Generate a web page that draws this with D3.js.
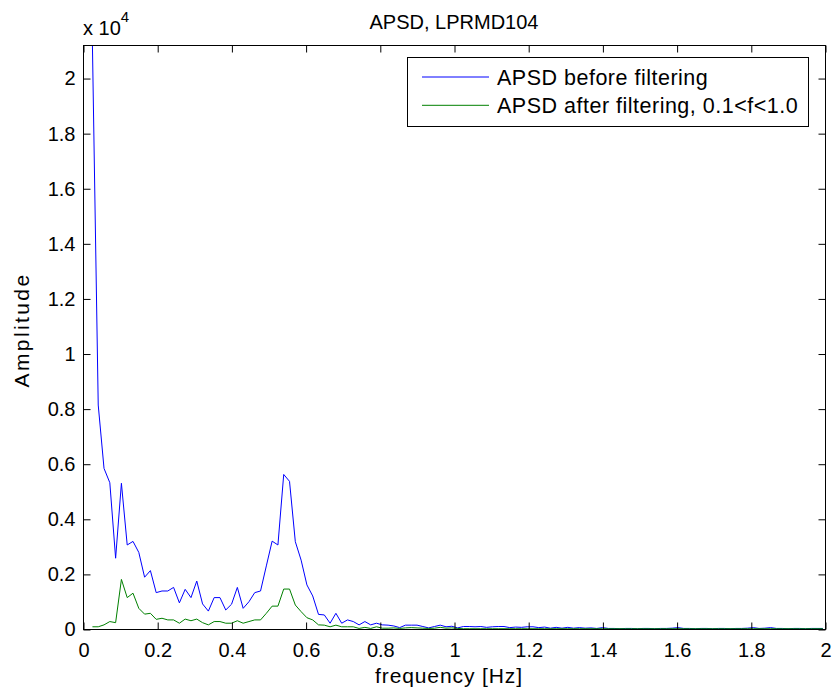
<!DOCTYPE html>
<html>
<head>
<meta charset="utf-8">
<script src="https://cdn.jsdelivr.net/npm/d3@7/dist/d3.min.js"></script>
<style>
body{margin:0;background:#fff;}
text{font-family:"Liberation Sans",Arial,sans-serif;fill:#000;}
</style>
</head>
<body>
<div id="container"></div>
<script>
// amplitude, one value per frequency bin
const blueAmp = [
  21200, 8130, 5830, 5310, 2570, 5290, 3050, 3180, 2780, 1880,
  2120, 1320, 1380, 1380, 1510, 950, 1440, 1140, 1740, 910,
  650, 1140, 1140, 690, 900, 1510, 750, 990, 1320, 1380,
  2290, 3190, 3050, 5610, 5360, 3170, 2500, 1600, 1200, 530,
  510, 210, 570, 210, 330, 270, 150, 270, 150, 210,
  150, 140, 110, 50, 140, 140, 140, 90, 40, 90,
  140, 80, 100, 40, 90, 90, 80, 90, 60, 80,
  90, 90, 50, 70, 60, 80, 80, 50, 70, 30,
  60, 30, 60, 30, 50, 30, 40, 20, 50, 20,
  20, 10, 20, 20, 10, 20, 20, 10, 20, 20,
  30, 50, 20, 20, 10, 20, 20, 10, 20, 20,
  10, 20, 20, 30, 50, 20, 30, 50, 20, 20,
  10, 20, 20, 10, 20, 20, 20
]
const greenAmp = [
  80, 80, 150, 270, 230, 1800, 1140, 1300, 750, 540,
  570, 350, 390, 330, 330, 210, 360, 300, 360, 230,
  150, 270, 270, 210, 210, 300, 210, 270, 330, 330,
  570, 830, 830, 1450, 1450, 870, 630, 410, 330, 150,
  140, 80, 140, 80, 80, 80, 20, 60, 20, 80,
  30, 30, 40, 20, 40, 50, 40, 30, 20, 30,
  60, 30, 40, 20, 10, 10, 10, 10, 10, 10,
  10, 10, 10, 10, 10, 10, 10, 10, 10, 10,
  10, 10, 10, 10, 10, 10, 10, 10, 10, 10,
  10, 10, 10, 10, 10, 10, 10, 10, 10, 10,
  10, 10, 10, 10, 10, 10, 10, 10, 10, 10,
  10, 10, 10, 10, 10, 10, 10, 10, 10, 10,
  10, 10, 10, 10, 10, 10, 10
]
const freqStart = 0.0254
const freqStep = 1 / 64

const xTicks = [0, 0.2, 0.4, 0.6, 0.8, 1, 1.2, 1.4, 1.6, 1.8, 2]
const yTicks = [0, 2000, 4000, 6000, 8000, 10000, 12000, 14000, 16000, 18000, 20000]
const seriesNames = ["APSD before filtering", "APSD after filtering, 0.1<f<1.0"]
const titleText = "APSD, LPRMD104"
const xLabel = "frequency [Hz]"
const yLabel = "Amplitude"

const seriesColors = ["#0000ff", "#008000"]

const width = 834
const height = 693
const pLeft = 83, pRight = 825, pTop = 45, pBottom = 629

const freq = blueAmp.map((d, i) => freqStart + i * freqStep)
const series = [blueAmp, greenAmp].map((vals, s) => ({
    name: seriesNames[s],
    color: seriesColors[s],
    points: vals.map((v, i) => [freq[i], v])
}))

let svg = d3.select("#container")
    .append("svg")
    .attr("width", width)
    .attr("height", height)

svg.append("rect").attr("width", width).attr("height", height).attr("fill", "#fff")

let x = d3.scaleLinear().domain([0, 2]).range([pLeft, pRight])
let y = d3.scaleLinear().domain([0, 21200]).range([pBottom, pTop])

const fmt = d => String(+d.toFixed(1))

svg.append("clipPath").attr("id", "plotclip")
    .append("rect")
    .attr("x", pLeft).attr("y", pTop)
    .attr("width", pRight - pLeft).attr("height", pBottom - pTop)

let line = d3.line().x(d => x(d[0])).y(d => y(d[1]))

svg.append("g")
    .attr("clip-path", "url(#plotclip)")
    .selectAll("path")
    .data(series)
    .enter()
    .append("path")
    .attr("d", d => line(d.points))
    .attr("fill", "none")
    .attr("stroke", d => d.color)
    .attr("stroke-width", 1)

function styleAxis(g) {
    g.select(".domain").remove()
    g.attr("font-size", 20).attr("font-family", null)
    g.selectAll("line").attr("stroke", "#000")
}

svg.append("g")
    .attr("transform", `translate(0.5,${pBottom + 0.5})`)
    .call(d3.axisBottom(x).tickValues(xTicks).tickSize(-7).tickPadding(13).tickFormat(fmt))
    .call(styleAxis)

svg.append("g")
    .attr("transform", `translate(0.5,${pTop + 0.5})`)
    .call(d3.axisTop(x).tickValues(xTicks).tickSize(-7).tickFormat(""))
    .call(styleAxis)

svg.append("g")
    .attr("transform", `translate(${pLeft + 0.5},0.5)`)
    .call(d3.axisLeft(y).tickValues(yTicks).tickSize(-7).tickPadding(8).tickFormat(d => fmt(d / 10000)))
    .call(styleAxis)

svg.append("g")
    .attr("transform", `translate(${pRight + 0.5},0.5)`)
    .call(d3.axisRight(y).tickValues(yTicks).tickSize(-7).tickFormat(""))
    .call(styleAxis)

svg.append("rect")
    .attr("x", pLeft + 0.5).attr("y", pTop + 0.5)
    .attr("width", pRight - pLeft).attr("height", pBottom - pTop)
    .attr("fill", "none")
    .attr("stroke", "#000")
    .attr("stroke-width", 1)

// exponent label above the y axis
let expo = svg.append("text")
    .attr("x", pLeft)
    .attr("y", 35)
    .attr("font-size", 20)
expo.append("tspan").text("x 10")
expo.append("tspan").attr("dy", -13).attr("font-size", 15).text("4")

svg.append("text")
    .attr("x", (pLeft + pRight) / 2)
    .attr("y", 29)
    .attr("text-anchor", "middle")
    .attr("font-size", 20)
    .text(titleText)

svg.append("text")
    .attr("x", (pLeft + pRight) / 2 - 5)
    .attr("y", 683)
    .attr("text-anchor", "middle")
    .attr("font-size", 21)
    .attr("letter-spacing", 0.9)
    .text(xLabel)

svg.append("text")
    .attr("transform", "translate(29,330) rotate(-90)")
    .attr("text-anchor", "middle")
    .attr("font-size", 21)
    .attr("letter-spacing", 2.4)
    .text(yLabel)

let legend = svg.append("g").attr("class", "legend")

legend.append("rect")
    .attr("x", 407.5).attr("y", 57.5)
    .attr("width", 401).attr("height", 69)
    .attr("fill", "#fff")
    .attr("stroke", "#000")

let items = legend.selectAll("g.item")
    .data(series)
    .enter()
    .append("g")
    .attr("class", "item")
    .attr("transform", (d, i) => `translate(0,${77 + i * 28.3})`)

items.append("line")
    .attr("x1", 422).attr("x2", 489)
    .attr("y1", 0).attr("y2", 0)
    .attr("stroke", d => d.color)

items.append("text")
    .attr("x", 497)
    .attr("y", 8)
    .attr("font-size", 21.5)
    .attr("letter-spacing", 0.5)
    .text(d => d.name)
</script>
</body>
</html>
